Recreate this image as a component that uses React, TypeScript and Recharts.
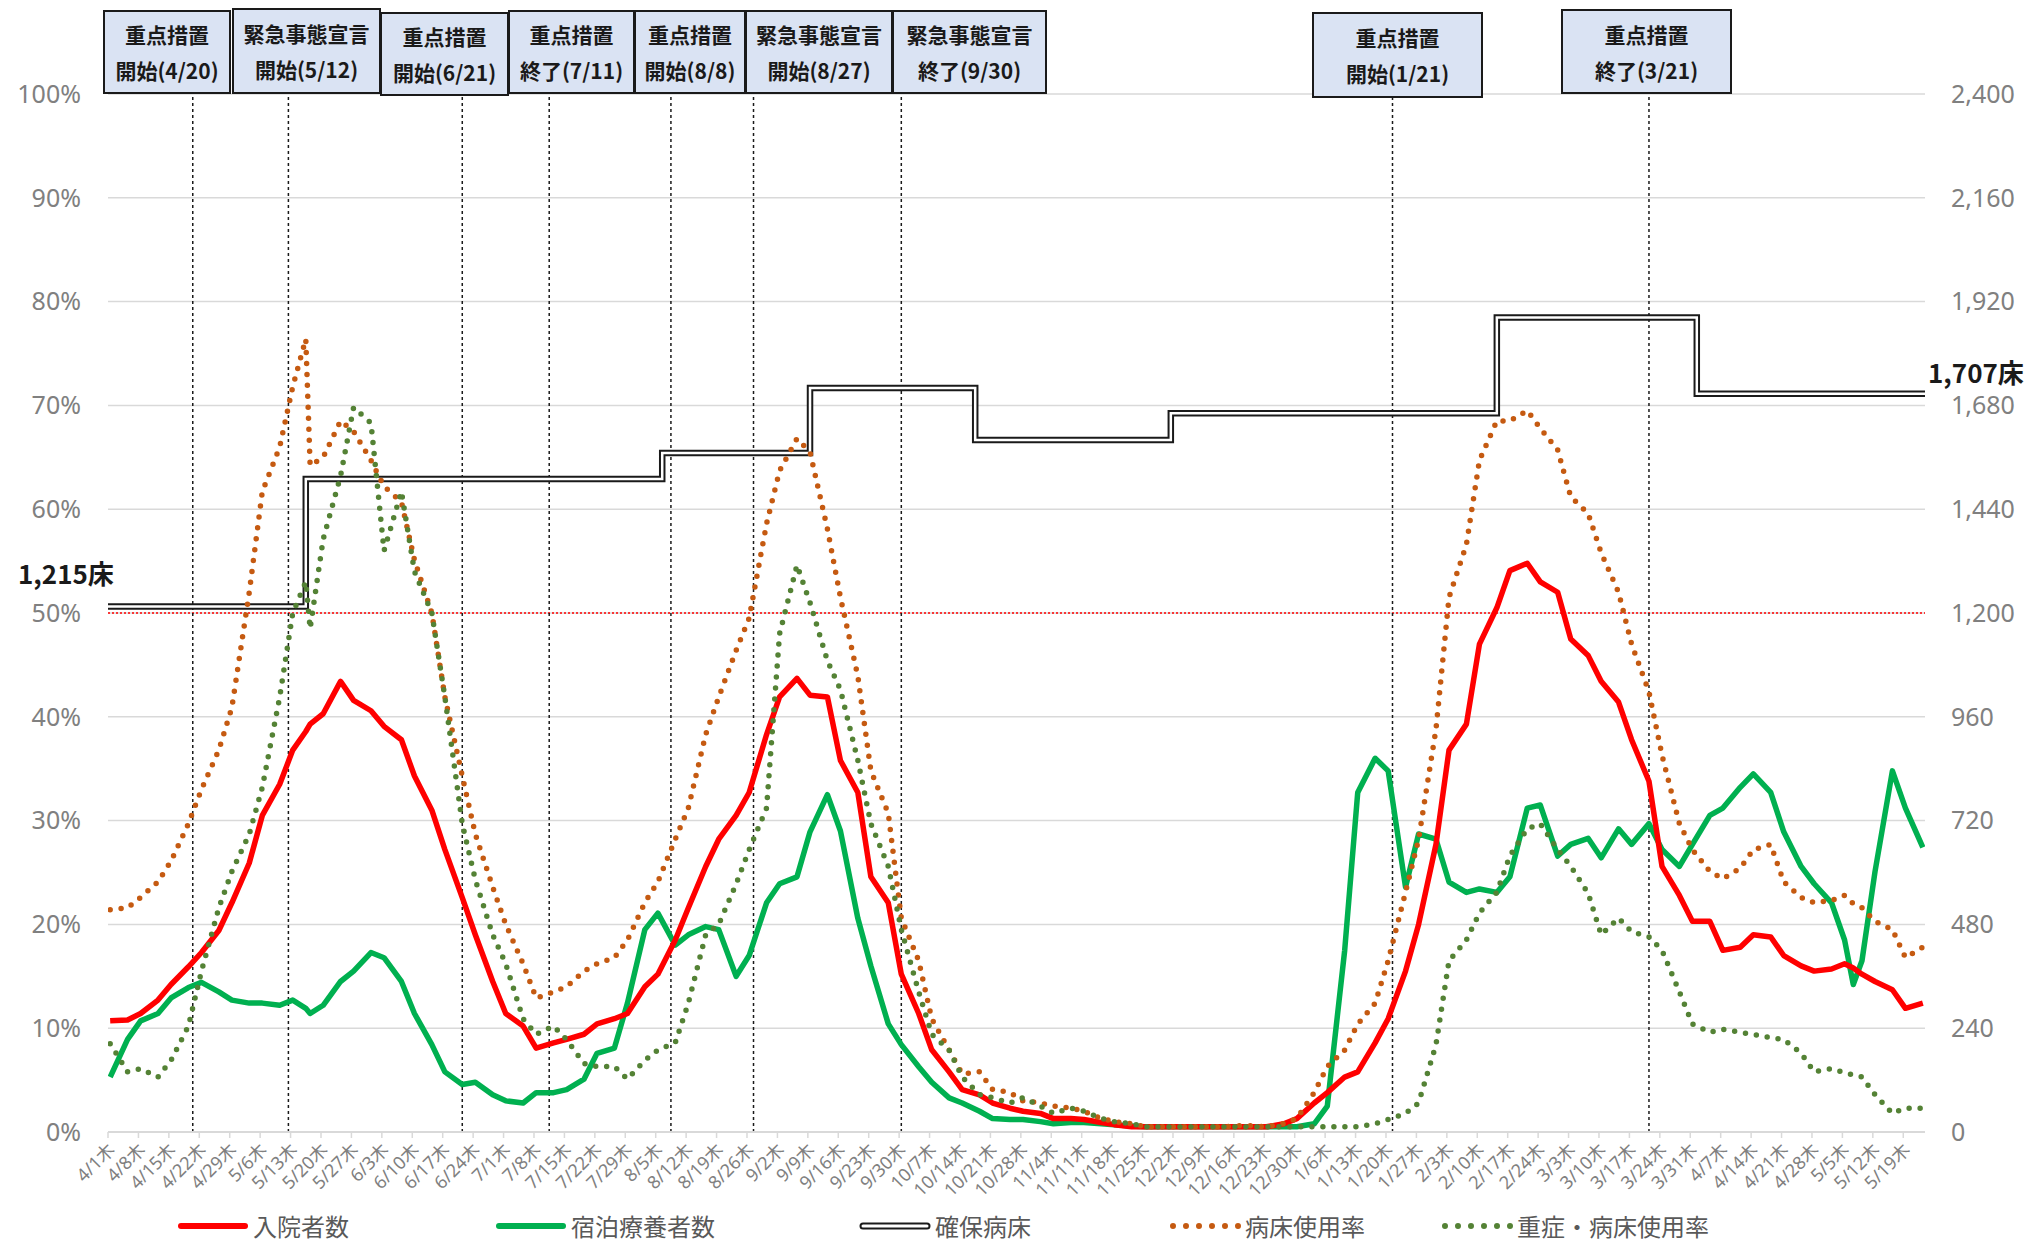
import React from "react";
import {
  ComposedChart,
  Line,
  XAxis,
  YAxis,
  CartesianGrid,
  ReferenceLine,
} from "recharts";

// day index counted from 2021/4/1 (Thu)
const days = [
  0, 4, 7, 11, 14, 18, 21, 25, 28, 32, 35, 39, 42, 45, 46,
  49, 53, 56, 60, 63, 67, 70, 74, 77, 81, 84,
  88, 91, 95, 98, 102, 105, 109, 112, 116, 119, 123, 126,
  130, 133, 137, 140, 144, 147, 151, 154, 158, 161, 165, 168,
  172, 175, 179, 182, 186, 189, 193, 196, 200, 203, 207, 210,
  214, 217, 221, 224, 228, 231, 235, 238, 242, 245, 249, 252,
  256, 259, 263, 266, 270, 273, 277, 280, 284, 287, 291, 294,
  298, 301, 305, 308, 312, 315, 319, 322, 326, 329, 333, 336,
  340, 343, 347, 350, 354, 357, 361, 364, 368, 371, 375, 378,
  382, 385, 389, 392, 396, 399, 401, 403, 406, 410, 413, 417,
];

// 入院者数 (persons, right axis)
const hospitalized = [
  257, 259, 274, 305, 341, 382, 415, 466, 530, 622, 732, 804, 883, 926, 943,
  967, 1042, 998, 974, 938, 907, 823, 744, 653, 542, 456,
  348, 274, 245, 194, 206, 214, 226, 250, 262, 274, 336, 365,
  444, 518, 614, 677, 732, 785, 919, 1006, 1049, 1010, 1006, 859,
  785, 590, 530, 365, 274, 190, 139, 98, 86, 67, 55, 48,
  43, 31, 31, 29, 22, 17, 12, 12, 12, 12, 12, 12,
  12, 12, 12, 12, 19, 31, 67, 91, 127, 139, 206, 262,
  372, 480, 665, 883, 943, 1128, 1212, 1298, 1315, 1272, 1248, 1140,
  1102, 1042, 994, 907, 811, 614, 547, 487, 487, 420, 427, 456,
  451, 408, 384, 372, 377, 389, 379, 365, 348, 329, 286, 298,
];

// 宿泊療養者数 (persons, right axis)
const hotelCare = [
  127, 214, 257, 274, 310, 334, 346, 324, 305, 298, 298, 293, 305, 286, 274,
  293, 348, 372, 415, 403, 348, 274, 202, 139, 110, 115,
  86, 72, 67, 91, 91, 98, 122, 182, 194, 298, 468, 506,
  432, 456, 475, 468, 360, 408, 530, 574, 590, 694, 780, 696,
  494, 384, 250, 202, 151, 115, 79, 67, 48, 31, 29, 29,
  24, 19, 22, 22, 19, 17, 14, 12, 12, 12, 12, 12,
  12, 12, 12, 12, 12, 12, 19, 60, 420, 785, 864, 835,
  566, 689, 677, 578, 554, 562, 554, 590, 749, 756, 638, 665,
  679, 634, 701, 665, 713, 653, 614, 665, 732, 749, 797, 828,
  785, 694, 614, 574, 530, 444, 341, 396, 602, 835, 749, 658,
];

// 病床使用率 (%, left axis)
const bedUseRate = [
  21.4, 21.6, 22.6, 24.1, 26.1, 29.7, 33, 36.8, 40.9, 52, 61.7, 66, 71.8, 76.4, 64.2,
  65, 68.5, 67.5, 64.7, 62.2, 60.7, 55.1, 50, 41.9, 34.3, 28.7,
  23.6, 20, 16.2, 12.9, 13.5, 14, 15.5, 16.2, 16.8, 18.5, 22.1, 24.1,
  28.2, 31.2, 38.3, 41.9, 46.4, 49.5, 58.6, 63.7, 66.8, 65.5, 58.1, 51.5,
  43.9, 34.8, 30.7, 20.6, 16.5, 10.9, 7.9, 5.6, 5.8, 4.1, 3.8, 3,
  2.8, 2.5, 2.3, 2, 1.3, 1, 0.8, 0.5, 0.5, 0.5, 0.5, 0.5,
  0.5, 0.6, 0.6, 0.5, 0.8, 1.3, 3.8, 6.3, 7.9, 10.4, 12.4, 16.5,
  23.1, 28.2, 38.8, 51.5, 56.6, 64.7, 68.5, 68.5, 69.5, 67.8, 65.7, 61.2,
  59.6, 55.8, 52, 47, 42.4, 36.3, 29.7, 27.2, 25.1, 24.4, 25.4, 27.2,
  27.7, 24.1, 22.6, 22.1, 22.3, 22.8, 22, 21.6, 20.3, 19.5, 16.8, 17.8,
];

// 重症・病床使用率 (%, left axis)
const severeUseRate = [
  8.5, 5.8, 6.1, 5.3, 6.9, 10.2, 15.5, 21.6, 25.1, 28.7, 33.2, 41.9, 50, 53, 48.5,
  57.1, 63.2, 69.8, 68.3, 56, 61.7, 54, 50, 41.9, 29.7, 24.3,
  19, 16.2, 10.9, 9.4, 10.2, 8.9, 6.6, 6.3, 6.3, 5.1, 6.9, 7.9,
  8.6, 12.4, 19, 20, 23.9, 27.2, 31.2, 48, 54.6, 51, 45.4, 42.6,
  35.8, 29.7, 25.6, 19.5, 13.5, 9.4, 7.9, 5.3, 3.6, 3.3, 2.8, 3.3,
  2.5, 1.8, 2.3, 2, 1.3, 1, 0.8, 0.5, 0.5, 0.5, 0.5, 0.5,
  0.5, 0.5, 0.5, 0.5, 0.5, 0.5, 0.5, 0.5, 0.5, 0.5, 0.8, 1.2,
  1.8, 2.8, 8.4, 16.5, 18.5, 21.1, 23.1, 26.6, 29.2, 29.7, 27.2, 25.6,
  23, 19, 20.6, 19.3, 18.8, 17.5, 13.5, 10.4, 9.6, 9.9, 9.6, 9.4,
  9.1, 8.9, 7.6, 5.8, 6.1, 5.7, 5.5, 5.3, 3.6, 1.8, 2.3, 2.3,
];

// 確保病床 (step changes)
const bedDays = [-0.5, 45, 127, 161, 199, 244, 319, 365, 417.5];
const securedBeds = [1215, 1510, 1570, 1720, 1600, 1662, 1883, 1707, 1707];

const weekLabels = [
  "4/1木", "4/8木", "4/15木", "4/22木", "4/29木", "5/6木", "5/13木", "5/20木",
  "5/27木", "6/3木", "6/10木", "6/17木", "6/24木", "7/1木", "7/8木", "7/15木",
  "7/22木", "7/29木", "8/5木", "8/12木", "8/19木", "8/26木", "9/2木", "9/9木",
  "9/16木", "9/23木", "9/30木", "10/7木", "10/14木", "10/21木", "10/28木",
  "11/4木", "11/11木", "11/18木", "11/25木", "12/2木", "12/9木", "12/16木",
  "12/23木", "12/30木", "1/6木", "1/13木", "1/20木", "1/27木", "2/3木",
  "2/10木", "2/17木", "2/24木", "3/3木", "3/10木", "3/17木", "3/24木",
  "3/31木", "4/7木", "4/14木", "4/21木", "4/28木", "5/5木", "5/12木", "5/19木",
];

const pctTicks = [0, 10, 20, 30, 40, 50, 60, 70, 80, 90, 100];
const countTicks = [0, 240, 480, 720, 960, 1200, 1440, 1680, 1920, 2160, 2400];

const eventDays = [19, 41, 81, 101, 129, 148, 182, 295, 354];
const eventTitles = [
  "重点措置", "緊急事態宣言", "重点措置", "重点措置", "重点措置",
  "緊急事態宣言", "緊急事態宣言", "重点措置", "重点措置",
];
const eventNotes = [
  "開始(4/20)", "開始(5/12)", "開始(6/21)", "終了(7/11)", "開始(8/8)",
  "開始(8/27)", "終了(9/30)", "開始(1/21)", "終了(3/21)",
];

const legendNames = ["入院者数", "宿泊療養者数", "確保病床", "病床使用率", "重症・病床使用率"];

// layout
const boxFrames = [
  [103, 10, 128, 84],
  [232, 8, 149, 86],
  [380, 12, 129, 84],
  [508, 10, 127, 84],
  [634, 10, 112, 84],
  [745, 10, 148, 84],
  [892, 10, 155, 84],
  [1312, 12, 171, 86],
  [1561, 9, 171, 85],
];
const legendLefts = [177, 495, 859, 1169, 1441];

const FONT = "'Noto Sans', 'Noto Sans CJK JP', sans-serif";
const JP = "'Noto Sans CJK JP', sans-serif";
const GRAY = "#808080";

const rows = days.map((day, i) => ({
  day,
  hospitalized: hospitalized[i],
  hotelCare: hotelCare[i],
  bedUseRate: bedUseRate[i],
  severeUseRate: severeUseRate[i],
}));
const bedRows = bedDays.map((day, i) => ({ day, beds: securedBeds[i] }));
const weekTicks = weekLabels.map((_, i) => i * 7 - 0.5);

function WeekTick(props: any) {
  const { x, y, payload } = props;
  const i = Math.round((payload.value + 0.5) / 7);
  const tx = x + 3;
  return (
    <text
      x={tx}
      y={y}
      transform={`rotate(-45 ${tx} ${y})`}
      textAnchor="end"
      dominantBaseline="central"
      fontSize={18}
      fill={GRAY}
      fontFamily={FONT}
    >
      {weekLabels[i]}
    </text>
  );
}

function Swatch({ kind }: { kind: number }) {
  return (
    <svg width={72} height={20} style={{ display: "block" }}>
      {kind === 0 && <line x1={4} y1={10} x2={68} y2={10} stroke="#ff0000" strokeWidth={6} strokeLinecap="round" />}
      {kind === 1 && <line x1={4} y1={10} x2={68} y2={10} stroke="#00b050" strokeWidth={6} strokeLinecap="round" />}
      {kind === 2 && (
        <>
          <line x1={4} y1={10} x2={68} y2={10} stroke="#1a1a1a" strokeWidth={7} strokeLinecap="round" />
          <line x1={4} y1={10} x2={68} y2={10} stroke="#ffffff" strokeWidth={3} strokeLinecap="round" />
        </>
      )}
      {kind === 3 && <line x1={4} y1={10} x2={70} y2={10} stroke="#c55a11" strokeWidth={6} strokeDasharray="0 13" strokeLinecap="round" />}
      {kind === 4 && <line x1={4} y1={10} x2={70} y2={10} stroke="#548235" strokeWidth={6} strokeDasharray="0 13" strokeLinecap="round" />}
    </svg>
  );
}

export default function App() {
  return (
    <div
      style={{
        position: "absolute",
        left: 0,
        top: 0,
        width: 2026,
        height: 1243,
        background: "#fff",
        overflow: "hidden",
      }}
    >
      <ComposedChart
        width={2026}
        height={1243}
        data={rows}
        margin={{ top: 94, right: 0, bottom: 11, left: 0 }}
      >
        <CartesianGrid yAxisId="pct" vertical={false} stroke="#d9d9d9" strokeWidth={1.5} />
        <XAxis
          type="number"
          dataKey="day"
          domain={[-0.5, 417.5]}
          ticks={weekTicks}
          interval={0}
          allowDataOverflow
          height={100}
          tick={<WeekTick />}
          tickSize={6}
          tickMargin={8}
          axisLine={{ stroke: "#d9d9d9", strokeWidth: 2 }}
          tickLine={{ stroke: "#d9d9d9", strokeWidth: 1.5 }}
        />
        <YAxis
          yAxisId="pct"
          domain={[0, 100]}
          ticks={pctTicks}
          tickFormatter={(v: number) => `${v}%`}
          width={108}
          axisLine={false}
          tickLine={false}
          tickSize={0}
          tickMargin={27}
          tick={{ fill: GRAY, fontSize: 25, fontFamily: FONT }}
        />
        <YAxis
          yAxisId="cnt"
          orientation="right"
          domain={[0, 2400]}
          ticks={countTicks}
          tickFormatter={(v: number) => v.toLocaleString("en-US")}
          width={101}
          axisLine={false}
          tickLine={false}
          tickSize={0}
          tickMargin={26}
          tick={{ fill: GRAY, fontSize: 25, fontFamily: FONT, textAnchor: "start" }}
        />
        <ReferenceLine yAxisId="pct" y={50} stroke="#ff0000" strokeWidth={1.5} strokeDasharray="2 2" />
        {eventDays.map((d) => (
          <ReferenceLine
            key={d}
            yAxisId="pct"
            x={d}
            stroke="#1a1a1a"
            strokeWidth={1.5}
            strokeDasharray="3 3"
          />
        ))}
        <Line
          data={bedRows}
          yAxisId="cnt"
          dataKey="beds"
          type="stepAfter"
          stroke="#1a1a1a"
          strokeWidth={6.5}
          strokeLinecap="round"
          dot={false}
          activeDot={false}
          isAnimationActive={false}
        />
        <Line
          data={bedRows}
          yAxisId="cnt"
          dataKey="beds"
          type="stepAfter"
          stroke="#ffffff"
          strokeWidth={2.5}
          strokeLinecap="round"
          dot={false}
          activeDot={false}
          isAnimationActive={false}
        />
        <Line
          yAxisId="cnt"
          dataKey="hotelCare"
          type="linear"
          stroke="#00b050"
          strokeWidth={5.5}
          strokeLinejoin="round"
          dot={false}
          activeDot={false}
          isAnimationActive={false}
        />
        <Line
          yAxisId="cnt"
          dataKey="hospitalized"
          type="linear"
          stroke="#ff0000"
          strokeWidth={5.5}
          strokeLinejoin="round"
          dot={false}
          activeDot={false}
          isAnimationActive={false}
        />
        <Line
          yAxisId="pct"
          dataKey="bedUseRate"
          type="linear"
          stroke="#c55a11"
          strokeWidth={5.5}
          strokeDasharray="0 11"
          strokeLinecap="round"
          dot={false}
          activeDot={false}
          isAnimationActive={false}
        />
        <Line
          yAxisId="pct"
          dataKey="severeUseRate"
          type="linear"
          stroke="#548235"
          strokeWidth={5.5}
          strokeDasharray="0 11"
          strokeLinecap="round"
          dot={false}
          activeDot={false}
          isAnimationActive={false}
        />
      </ComposedChart>

      {/* event boxes */}
      {eventTitles.map((t, i) => {
        const [l, tp, w, h] = boxFrames[i];
        return (
          <div
            key={i}
            style={{
              position: "absolute",
              left: l,
              top: tp,
              width: w,
              height: h,
              boxSizing: "border-box",
              border: "2.5px solid #1a1a1a",
              background: "#dae3f3",
              display: "flex",
              flexDirection: "column",
              alignItems: "center",
              justifyContent: "center",
              fontFamily: JP,
              fontWeight: 700,
              fontSize: 21,
              lineHeight: "36px",
              color: "#1a1a1a",
              whiteSpace: "nowrap",
            }}
          >
            <div>{t}</div>
            <div>{eventNotes[i]}</div>
          </div>
        );
      })}

      {/* bed count labels */}
      <div
        style={{
          position: "absolute",
          left: 18,
          top: 556,
          fontFamily: JP,
          fontWeight: 700,
          fontSize: 26,
          lineHeight: "34px",
          color: "#1a1a1a",
        }}
      >
        1,215床
      </div>
      <div
        style={{
          position: "absolute",
          left: 1928,
          top: 355,
          fontFamily: JP,
          fontWeight: 700,
          fontSize: 26,
          lineHeight: "34px",
          color: "#1a1a1a",
        }}
      >
        1,707床
      </div>

      {/* legend */}
      {legendNames.map((name, i) => (
        <div
          key={name}
          style={{
            position: "absolute",
            left: legendLefts[i],
            top: 1211,
            height: 30,
            display: "flex",
            alignItems: "center",
            gap: 4,
            fontFamily: JP,
            fontSize: 24,
            lineHeight: "28px",
            color: "#595959",
            whiteSpace: "nowrap",
          }}
        >
          <Swatch kind={i} />
          <span style={{ lineHeight: "28px" }}>{name}</span>
        </div>
      ))}
    </div>
  );
}
